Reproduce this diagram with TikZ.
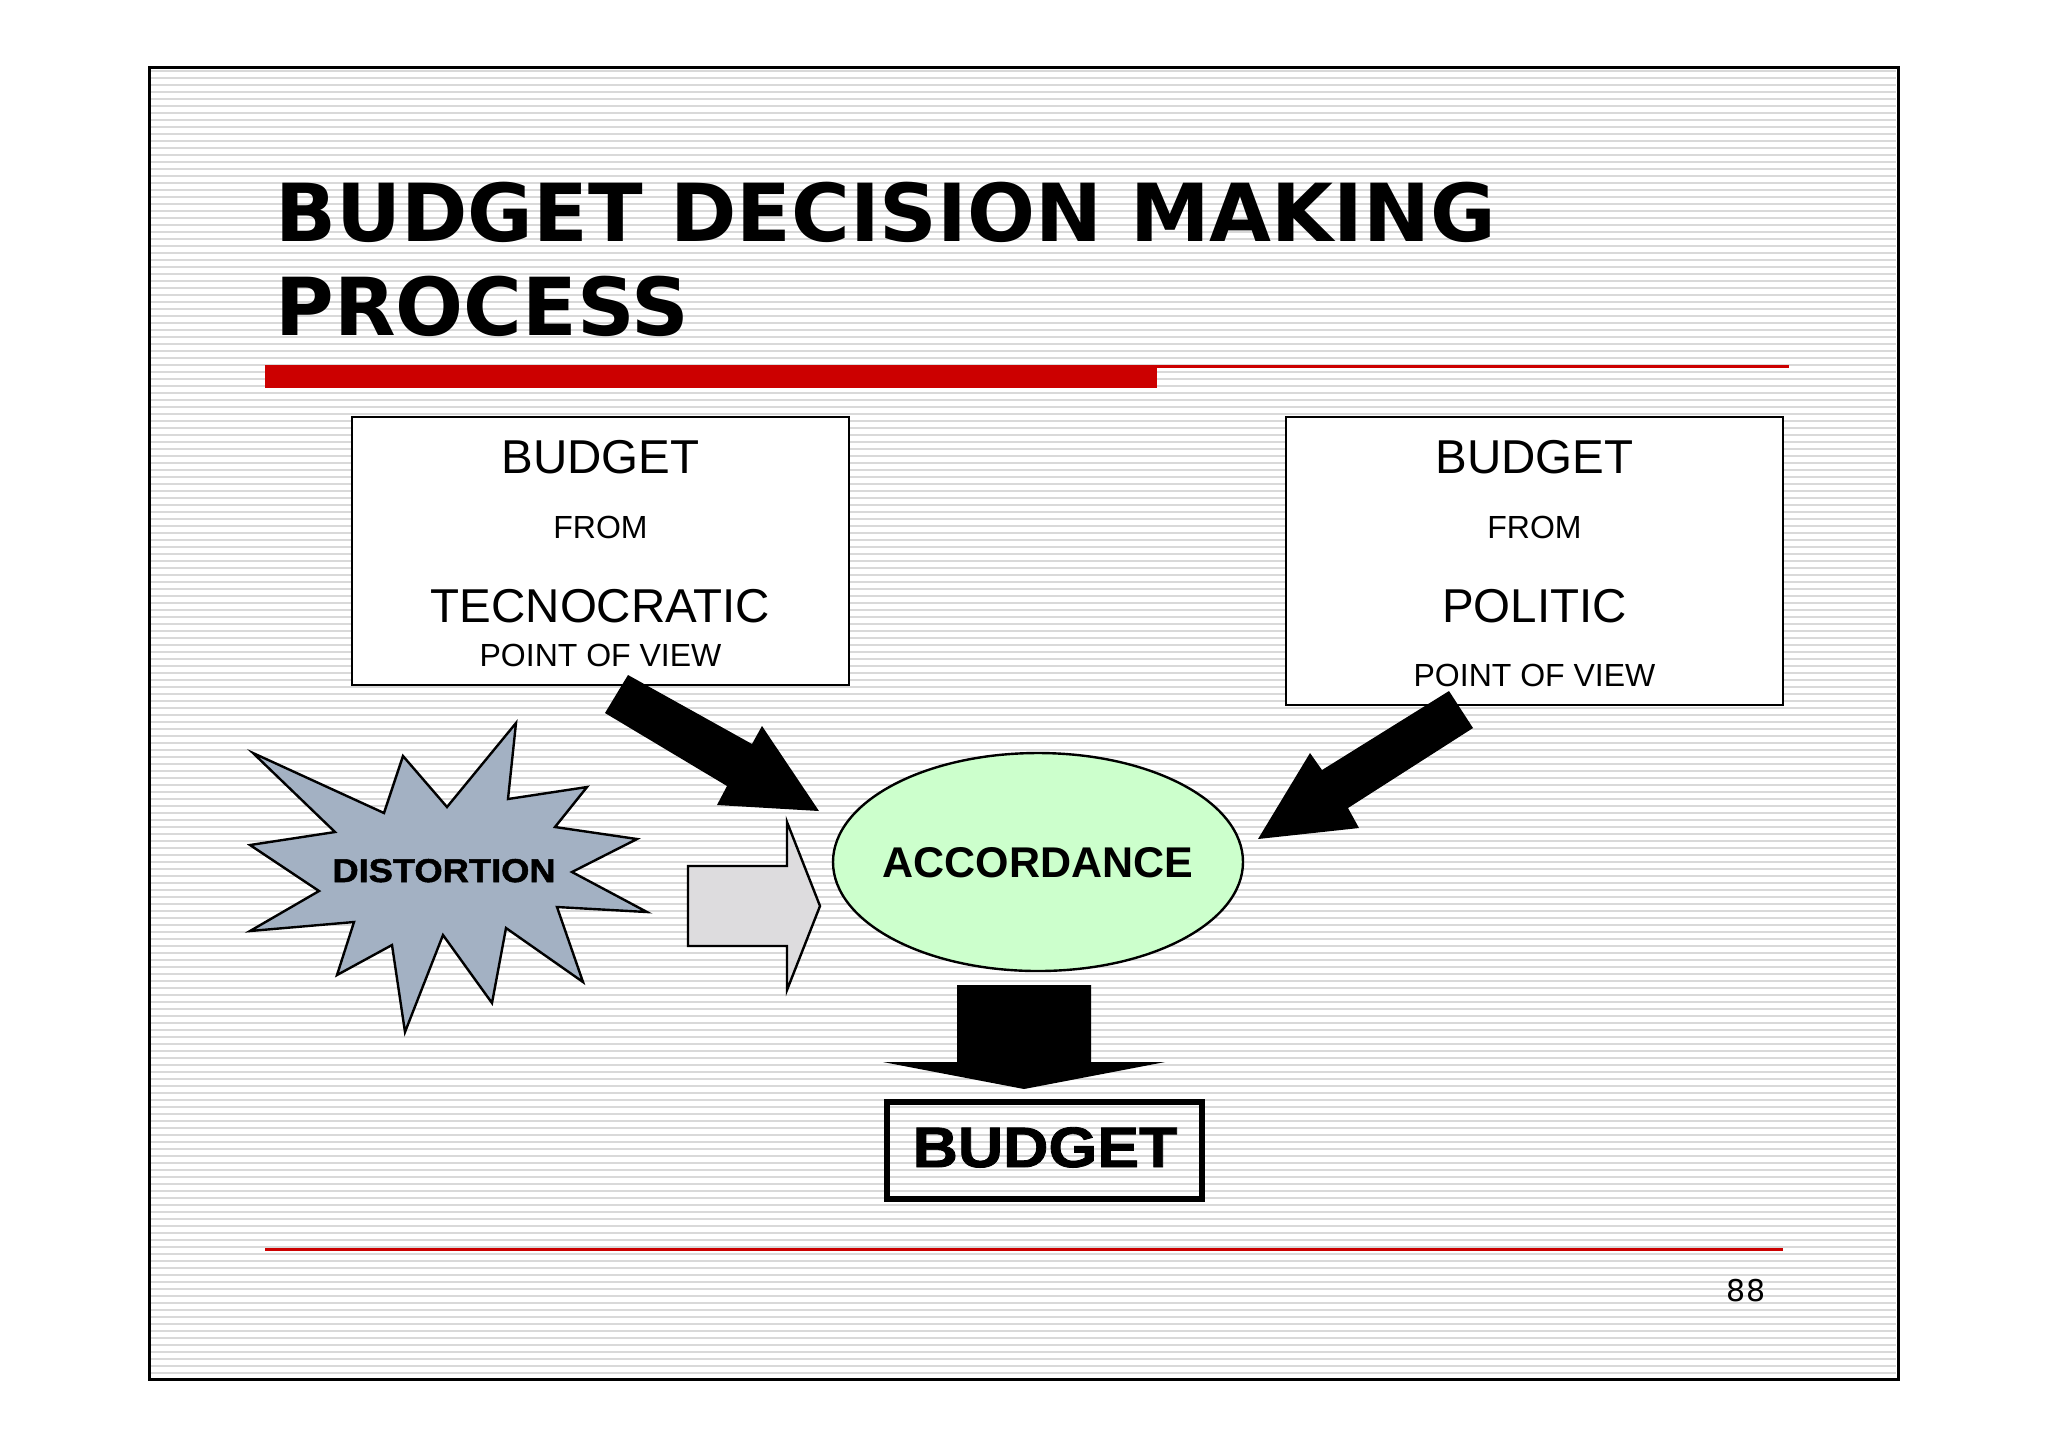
\documentclass[tikz,border=0pt]{standalone}
\usepackage{fontspec}
\setmainfont{Liberation Sans}
\newfontfamily\titlefont{DejaVu Sans}
\newfontfamily\heavyfont{Liberation Sans}[FakeStretch=1.1,FakeBold=1.5]
\usetikzlibrary{shapes.geometric}
\definecolor{slidered}{HTML}{CC0000}
\definecolor{stripegray}{HTML}{D9D9D9}
\definecolor{stargray}{HTML}{A3B1C3}
\definecolor{arrowgray}{HTML}{DDDCDE}
\definecolor{accgreen}{HTML}{CCFFCC}
\begin{document}
\begin{tikzpicture}[x=0.5pt,y=-0.5pt,
  stripe/.style={stripegray, line width=1.2pt},
  viewbox/.style={draw=black, fill=white, line width=1.3pt, minimum width=248.5pt, inner sep=0pt},
  bigtext/.style={font=\fontsize{23.75pt}{28pt}\selectfont, anchor=base, inner sep=0pt},
  smalltext/.style={font=\fontsize{16pt}{19pt}\selectfont, anchor=base, inner sep=0pt},
  titletext/.style={font=\titlefont\bfseries\fontsize{40pt}{46pt}\selectfont, anchor=base west, inner sep=0pt},
  heavytext/.style={anchor=base, inner sep=0pt},
  blockarrow/.style={fill=black},
  outlined/.style={draw=black, line width=1.2pt, line join=miter}
]
\useasboundingbox (0,0) rectangle (2048,1448);
\fill[white] (0,0) rectangle (2048,1448);
% striped slide background
\foreach \yy in {71,78,...,1376} \draw[stripe] (151,\yy) -- (1896,\yy);
\draw[line width=1.5pt] (149,67) rectangle (1898,1379);

% title
\node[titletext] (title1) at (275,241) {BUDGET DECISION MAKING};
\node[titletext] (title2) at (275,335) {PROCESS};
\fill[slidered] (265,365) rectangle (1157,388);
\draw[slidered, line width=1.5pt] (1157,366.5) -- (1789,366.5);

% source boxes
\node[viewbox, minimum height=134pt] (tecbox) at (600.5,551) {};
\node[bigtext] (tecbudget) at (600.5,473) {BUDGET};
\node[smalltext] (tecfrom) at (600.5,538) {FROM};
\node[bigtext] (tecname) at (600.5,622) {TECNOCRATIC};
\node[smalltext] (tecpov) at (600.5,666) {POINT OF VIEW};

\node[viewbox, minimum height=144pt] (polbox) at (1534.5,561) {};
\node[bigtext] (polbudget) at (1534.5,473) {BUDGET};
\node[smalltext] (polfrom) at (1534.5,538) {FROM};
\node[bigtext] (polname) at (1534.5,622) {POLITIC};
\node[smalltext] (polpov) at (1534.5,686) {POINT OF VIEW};

% distortion star
\draw[outlined, fill=stargray] (253,753) -- (384,813) -- (403,756) -- (447,807) -- (516,723)
  -- (508,799) -- (587,787) -- (555,827) -- (637,839) -- (572,872) -- (647,912)
  -- (557,907) -- (583,982) -- (506,928) -- (492,1003) -- (443,935) -- (405,1032)
  -- (392,945) -- (337,975) -- (354,922) -- (250,931) -- (319,891) -- (250,845)
  -- (335,832) -- cycle;
\node[heavytext, font=\heavyfont\bfseries\fontsize{16.5pt}{20pt}\selectfont] (dist) at (444,882) {DISTORTION};

% accordance ellipse
\node[ellipse, draw=black, fill=accgreen, line width=1.2pt, minimum width=205pt, minimum height=109pt, inner sep=0pt] (acc) at (1038,862) {};
\node[anchor=base, inner sep=0pt, font=\bfseries\fontsize{21.5pt}{26pt}\selectfont] (acclabel) at (1038,877) {ACCORDANCE};

% gray block arrow from distortion
\draw[outlined, fill=arrowgray] (688,866) -- (787,866) -- (787,822) -- (820,906) -- (787,990) -- (787,946) -- (688,946) -- cycle;

% black block arrows
\fill[blockarrow] (628,675) -- (752,744) -- (762,726) -- (819,811) -- (717,805) -- (727,786) -- (605,713) -- cycle;
\fill[blockarrow] (1449,691) -- (1473,728) -- (1348,808) -- (1359,828) -- (1258,839) -- (1310,753) -- (1322,770) -- cycle;
\fill[blockarrow] (957,985) -- (1091,985) -- (1091,1062) -- (1165,1062) -- (1024,1089) -- (883,1062) -- (957,1062) -- cycle;

% result
\node[draw=black, line width=3.25pt, minimum width=157.5pt, minimum height=48.5pt, inner sep=0pt] (resbox) at (1044.5,1150.5) {};
\node[heavytext, font=\heavyfont\bfseries\fontsize{28.5pt}{34pt}\selectfont] (reslabel) at (1045,1167) {BUDGET};

% footer
\draw[slidered, line width=1.5pt] (265,1249) -- (1783,1249);
\node[anchor=base, inner sep=0pt, font=\titlefont\fontsize{15pt}{18pt}\selectfont] (pagenum) at (1746,1301) {88};
\end{tikzpicture}
\end{document}
